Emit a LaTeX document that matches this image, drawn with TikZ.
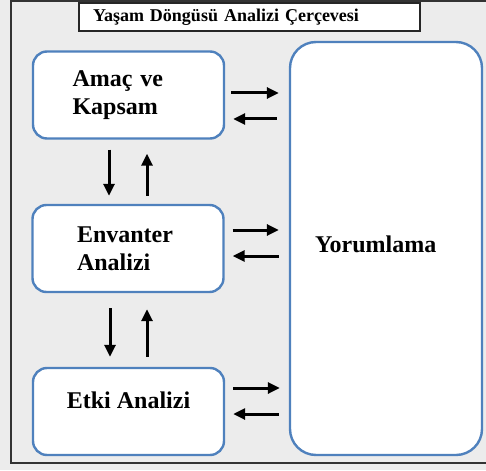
\documentclass[tikz,border=0pt]{standalone}
\usepackage{fontspec}
\setmainfont{Liberation Serif}
\usetikzlibrary{arrows.meta}
\definecolor{boxblue}{RGB}{79,129,189}
\definecolor{panelgray}{RGB}{236,236,236}
\tikzset{
	stage/.style={shape=rectangle,draw=boxblue,fill=white,line width=2.4pt,rounded corners=14pt,minimum width=191pt,minimum height=87pt,inner sep=0pt,font=\bfseries\fontsize{24}{28}\selectfont},
	flow/.style={line width=3pt,black,-{Triangle[length=12pt,width=11pt]}}
}
\begin{document}
\begin{tikzpicture}[x=1pt,y=-1pt]
	\useasboundingbox (0,0) rectangle (486,470);
	\fill[panelgray] (0,0) rectangle (486,470);
	\draw[line width=1.5pt,black!80] (11,1) rectangle (495,463);

	\node[shape=rectangle,draw=black!85,fill=white,line width=1.8pt,minimum width=341pt,minimum height=28pt,inner sep=0pt,text width=313pt,align=left,font=\bfseries\fontsize{18}{20}\selectfont] (title) at (249.5,17) {Yaşam Döngüsü Analizi Çerçevesi};
	\node[stage,text width=112pt,align=left] (amac) at (128.5,95) {Amaç ve\\Kapsam};
	\node[stage,text width=102pt,align=left] (envanter) at (128,248.5) {Envanter\\Analizi};
	\node[stage,align=center,text depth=22pt] (etki) at (128.5,411.5) {Etki Analizi};
	\node[stage,rounded corners=26pt,minimum width=192pt,minimum height=413pt,text width=142pt,align=left,text depth=9pt] (yorum) at (386,248.5) {Yorumlama};

	\draw[flow,shorten <=6pt,shorten >=10pt] (amac.east |- 0,93) -- (yorum.west |- 0,93);
	\draw[flow,shorten <=12pt,shorten >=8pt] (yorum.west |- 0,119) -- (amac.east |- 0,119);
	\draw[flow,shorten <=8pt,shorten >=10pt] (envanter.east |- 0,230) -- (yorum.west |- 0,230);
	\draw[flow,shorten <=10pt,shorten >=8pt] (yorum.west |- 0,256) -- (envanter.east |- 0,256);
	\draw[flow,shorten <=8pt,shorten >=9pt] (etki.east |- 0,388) -- (yorum.west |- 0,388);
	\draw[flow,shorten <=10pt,shorten >=8pt] (yorum.west |- 0,414) -- (etki.east |- 0,414);

	\draw[flow,shorten <=10pt,shorten >=8pt] (amac.south -| 109,0) -- (envanter.north -| 109,0);
	\draw[flow,shorten <=8pt,shorten >=14pt] (envanter.north -| 147,0) -- (amac.south -| 147,0);
	\draw[flow,shorten <=15pt,shorten >=10pt] (envanter.south -| 110,0) -- (etki.north -| 110,0);
	\draw[flow,shorten <=10pt,shorten >=16pt] (etki.north -| 147,0) -- (envanter.south -| 147,0);
\end{tikzpicture}
\end{document}
